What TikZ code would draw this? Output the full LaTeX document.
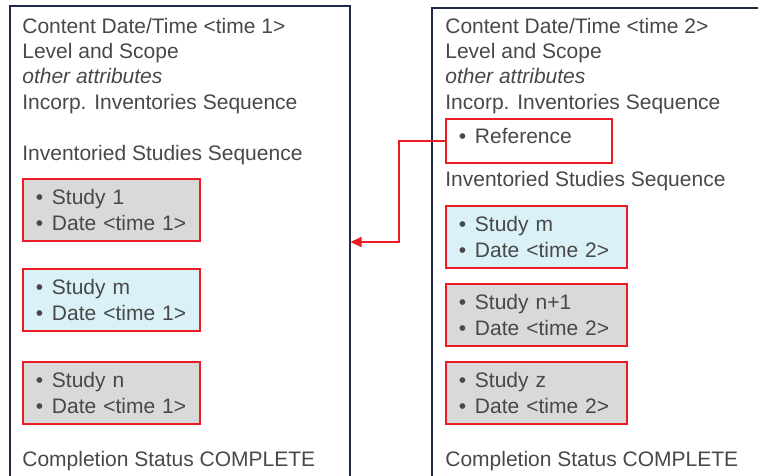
\documentclass[tikz,border=0pt]{standalone}
\usepackage{fontspec}
\setmainfont{Liberation Sans}
\usetikzlibrary{arrows.meta}
\definecolor{rahmenblau}{RGB}{30,40,72}
\definecolor{textgrau}{RGB}{72,72,72}
\definecolor{studiengrau}{RGB}{217,217,217}
\definecolor{studienblau}{RGB}{218,242,247}
\definecolor{linienrot}{RGB}{237,28,36}
\newcommand{\pkt}{\makebox[0.32cm][l]{\textbullet}}

\begin{document}
\begin{tikzpicture}[x=0.02cm, y=-0.02cm, % 1 Einheit = 1 Pixel, y nach unten
  every node/.style={font=\fontsize{11.95}{14.7}\selectfont, text=textgrau},
  zeile/.style={anchor=base west, inner sep=0pt},
  inventar/.style={draw=rahmenblau, line width=0.9pt, anchor=north west, minimum width=6.8cm, minimum height=10cm},
  studie/.style={draw=linienrot, line width=1.1pt, anchor=north west, minimum height=1.24cm, align=left, inner xsep=0.26cm},
  verweis/.style={draw=linienrot, line width=1.1pt, -{Triangle[length=0.22cm,width=0.2cm]}}]

\useasboundingbox (0,0) rectangle (758,476);
\clip (0,0) rectangle (758,476);

% Inventare
\node[inventar] (links) at (9,5) {};
\node[inventar, minimum width=7cm] (rechts) at (431,7) {};

% Kopfzeilen
\foreach \x/\t/\s in {22/1/links, 445/2/rechts} {
  \node[zeile] (\s-datum) at (\x,34) {Content Date/Time <time \t>};
  \node[zeile] (\s-level) at (\x,59) {Level and Scope};
  \node[zeile] (\s-attr) at (\x,84) {\itshape other attributes};
  \node[zeile] (\s-incorp) at (\x,110) {Incorp. Inventories Sequence};
  \node[zeile] (\s-status) at (\x,466) {Completion Status COMPLETE};
}
\node[zeile] (links-seq) at (22,161) {Inventoried Studies Sequence};
\node[zeile] (rechts-seq) at (445,187) {Inventoried Studies Sequence};

% Verweis
\node[studie, minimum height=0.88cm, text width=2.8cm, text depth=0.2cm] (ref) at (445,118) {\pkt Reference};

% Studien
\foreach \nm/\xx/\yy/\fc/\tw/\st/\zt in {s1/22/178/studiengrau/3.02cm/1/1, sm/22/268/studienblau/3.02cm/m/1, sn/22/361/studiengrau/3.02cm/n/1, tm/445/205/studienblau/3.1cm/m/2, tn/445/283/studiengrau/3.1cm/n+1/2, tz/445/361/studiengrau/3.1cm/z/2}
  \node[studie, fill=\fc, text width=\tw] (\nm) at (\xx,\yy) {\pkt Study \st\\ \pkt Date <time \zt>};

% Pfeil
\coordinate (ziel) at (links.north east |- 0,242);
\draw[verweis] (ref.west) -- ++(-46,0) |- (ziel);

\end{tikzpicture}
\end{document}
